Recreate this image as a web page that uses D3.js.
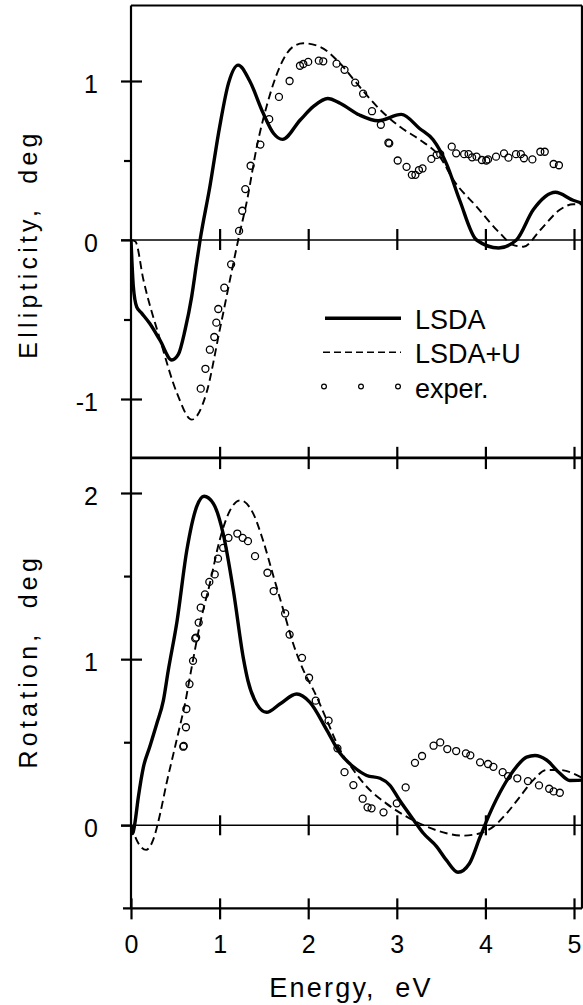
<!DOCTYPE html>
<html>
<head>
<meta charset="utf-8">
<script src="https://cdn.jsdelivr.net/npm/d3@7"></script>
<style>
  html, body { margin: 0; padding: 0; background: #fff; }
  svg { display: block; }
  text { font-family: "Liberation Sans", Arial, Helvetica, sans-serif; fill: #000; }
</style>
</head>
<body>
<div id="chart"></div>
<script>
// ---------------- data ----------------
const xTickValues = [0, 1, 2, 3, 4, 5];
const xTickLabels = ["0", "1", "2", "3", "4", "5"];
const ellTickValues = [-1, 0, 1];
const ellTickLabels = ["-1", "0", "1"];
const rotTickValues = [0, 1, 2];
const rotTickLabels = ["0", "1", "2"];
const seriesNames = ["LSDA", "LSDA+U", "exper."];

// Ellipticity (deg) vs energy (eV)
const ellLSDA = [
  [0,0],[0.026,-0.29],[0.064,-0.42],[0.12,-0.46],[0.21,-0.524],[0.327,-0.63],[0.46,-0.755],
  [0.534,-0.72],[0.61,-0.566],[0.685,-0.356],[0.74,-0.147],[0.78,0],[0.89,0.335],[1.0,0.71],
  [1.10,0.985],[1.21,1.10],[1.34,1.0],[1.49,0.8],[1.61,0.67],[1.71,0.633],[1.91,0.755],
  [2.06,0.84],[2.22,0.89],[2.36,0.86],[2.58,0.786],[2.79,0.75],[3.05,0.79],[3.26,0.70],
  [3.41,0.63],[3.56,0.48],[3.71,0.25],[3.90,0],[4.15,-0.05],[4.35,0],[4.54,0.19],
  [4.79,0.30],[4.99,0.25],[5.10,0.23]
];
const ellLSDAU = [
  [0,0],[0.05,-0.01],[0.14,-0.25],[0.33,-0.63],[0.52,-0.965],[0.685,-1.13],[0.85,-0.965],
  [1.0,-0.57],[1.155,-0.147],[1.21,0],[1.31,0.25],[1.42,0.587],[1.53,0.84],[1.68,1.09],
  [1.83,1.216],[1.945,1.237],[2.13,1.216],[2.36,1.11],[2.58,0.964],[2.81,0.82],[3.04,0.71],
  [3.26,0.63],[3.49,0.52],[3.64,0.377],[3.90,0.21],[4.165,0.042],[4.31,-0.03],[4.43,-0.042],
  [4.62,0.063],[4.84,0.19],[4.99,0.225],[5.10,0.225]
];
const ellExp = [
  [0.787,-0.935],[0.84,-0.81],[0.89,-0.69],[0.94,-0.61],[0.963,-0.52],[0.985,-0.434],
  [1.053,-0.30],[1.13,-0.153],[1.22,0.057],[1.256,0.184],[1.29,0.32],[1.35,0.467],[1.46,0.60],
  [1.56,0.76],[1.67,0.90],[1.79,1.0],[1.907,1.096],[1.945,1.107],[2.0,1.12],[2.12,1.128],
  [2.17,1.124],[2.32,1.109],[2.41,1.07],[2.53,0.99],[2.62,0.92],[2.72,0.81],[2.82,0.725],
  [2.905,0.612],[2.915,0.608],[3.01,0.50],[3.11,0.46],[3.17,0.41],[3.21,0.41],[3.25,0.44],
  [3.29,0.45],[3.39,0.51],[3.45,0.535],[3.49,0.54],[3.62,0.587],[3.67,0.545],[3.76,0.54],
  [3.81,0.54],[3.85,0.52],[3.90,0.524],[3.96,0.503],[4.01,0.50],[4.03,0.507],[4.12,0.524],
  [4.21,0.545],[4.26,0.518],[4.345,0.54],[4.40,0.54],[4.435,0.514],[4.53,0.507],[4.62,0.555],
  [4.67,0.555],[4.77,0.478],[4.83,0.47]
];

// Rotation (deg) vs energy (eV)
const rotLSDA = [
  [0,0],[0.02,-0.05],[0.04,0],[0.083,0.17],[0.14,0.35],[0.21,0.47],[0.29,0.61],[0.365,0.75],
  [0.42,0.93],[0.52,1.23],[0.63,1.655],[0.74,1.916],[0.825,1.98],[0.93,1.936],[1.04,1.756],
  [1.155,1.415],[1.27,1.0],[1.32,0.87],[1.42,0.73],[1.53,0.68],[1.68,0.73],[1.87,0.79],
  [2.02,0.74],[2.21,0.573],[2.36,0.433],[2.51,0.352],[2.66,0.30],[2.81,0.283],[2.92,0.242],
  [3.03,0.152],[3.19,0.032],[3.30,-0.048],[3.45,-0.128],[3.56,-0.21],[3.69,-0.283],
  [3.82,-0.23],[3.94,-0.07],[4.05,0.072],[4.20,0.232],[4.35,0.352],[4.465,0.41],[4.56,0.42],
  [4.69,0.393],[4.84,0.313],[4.95,0.27],[5.10,0.272]
];
const rotLSDAU = [
  [0,0],[0.083,-0.108],[0.17,-0.148],[0.25,-0.088],[0.33,0.072],[0.40,0.25],[0.48,0.433],
  [0.55,0.593],[0.61,0.733],[0.665,0.893],[0.70,0.994],[0.78,1.215],[0.89,1.455],[1.0,1.715],
  [1.10,1.876],[1.235,1.956],[1.38,1.876],[1.49,1.715],[1.61,1.495],[1.72,1.295],[1.83,1.094],
  [1.98,0.894],[2.06,0.814],[2.21,0.633],[2.36,0.453],[2.51,0.333],[2.66,0.232],[2.88,0.132],
  [3.11,0.052],[3.34,-0.008],[3.56,-0.048],[3.75,-0.062],[3.94,-0.048],[4.09,-0.008],
  [4.24,0.072],[4.39,0.172],[4.54,0.272],[4.69,0.333],[4.84,0.333],[5.10,0.283]
];
const rotExp = [
  [0.59,0.473],[0.595,0.478],[0.62,0.59],[0.625,0.70],[0.66,0.85],[0.70,0.99],[0.725,1.125],
  [0.735,1.13],[0.764,1.22],[0.787,1.31],[0.835,1.39],[0.884,1.465],[0.945,1.51],[0.982,1.605],
  [1.04,1.67],[1.10,1.73],[1.20,1.756],[1.26,1.73],[1.32,1.71],[1.40,1.62],[1.54,1.52],
  [1.61,1.41],[1.74,1.275],[1.79,1.148],[1.93,1.008],[2.01,0.888],[2.085,0.75],[2.23,0.63],
  [2.33,0.463],[2.41,0.32],[2.51,0.242],[2.615,0.16],[2.67,0.108],[2.715,0.102],[2.85,0.078],
  [3.0,0.132],[3.10,0.228],[3.205,0.376],[3.285,0.417],[3.415,0.479],[3.49,0.499],[3.57,0.459],
  [3.67,0.447],[3.78,0.433],[3.83,0.421],[3.94,0.379],[4.03,0.369],[4.09,0.352],[4.195,0.32],
  [4.255,0.296],[4.36,0.283],[4.48,0.266],[4.605,0.24],[4.72,0.22],[4.77,0.204],[4.84,0.196]
];

// ---------------- layout ----------------
const W = 583, H = 1005;
const xMaxVal = 5.09;
const ellRange = [-1.37, 1.475];
const rotRange = [-0.5, 2.21];

const x = d3.scaleLinear().domain([0, 5]).range([131, 574]);
const yE = d3.scaleLinear().domain([-1, 1]).range([399, 81]);
const yR = d3.scaleLinear().domain([0, 2]).range([825.3, 493]);

const svg = d3.select("#chart").append("svg").attr("width", W).attr("height", H);

const AXW = 2.2;
const x0 = x(0), x1 = x(xMaxVal);

// clip paths
const defs = svg.append("defs");
defs.append("clipPath").attr("id", "clipE").append("rect")
  .attr("x", x0).attr("y", yE(ellRange[1])).attr("width", x1 - x0).attr("height", yE(ellRange[0]) - yE(ellRange[1]));
defs.append("clipPath").attr("id", "clipR").append("rect")
  .attr("x", x0).attr("y", yR(rotRange[1])).attr("width", x1 - x0).attr("height", yR(rotRange[0]) - yR(rotRange[1]));

function styleAxis(g) {
  g.select(".domain").remove();
  g.selectAll(".tick line").attr("stroke", "#000").attr("stroke-width", AXW);
  g.selectAll(".tick text").attr("font-family", '"Liberation Sans", Arial, sans-serif')
    .attr("font-size", 25).attr("fill", "#000");
}

// ---- frame lines ----
const frame = svg.append("g").attr("stroke", "#000").attr("fill", "none");
frame.append("line").attr("x1", x0).attr("x2", x0).attr("y1", yE(ellRange[1])).attr("y2", yR(rotRange[0])).attr("stroke-width", AXW);
frame.append("line").attr("x1", x1).attr("x2", x1).attr("y1", yE(ellRange[1])).attr("y2", yR(rotRange[0])).attr("stroke-width", AXW);
frame.append("line").attr("x1", x0).attr("x2", x1).attr("y1", yE(ellRange[1])).attr("y2", yE(ellRange[1])).attr("stroke-width", AXW);
frame.append("line").attr("x1", x0).attr("x2", x1).attr("y1", yE(ellRange[0])).attr("y2", yE(ellRange[0])).attr("stroke-width", 2.6);
frame.append("line").attr("x1", x0 - 8).attr("x2", x1).attr("y1", yR(rotRange[0])).attr("y2", yR(rotRange[0])).attr("stroke-width", AXW);
// zero lines
frame.append("line").attr("x1", x0 - 10).attr("x2", x1).attr("y1", yE(0)).attr("y2", yE(0)).attr("stroke-width", 1.6);
frame.append("line").attr("x1", x0 - 10).attr("x2", x1).attr("y1", yR(0)).attr("y2", yR(0)).attr("stroke-width", 1.6);

// ---- x ticks ----
const inner = [1, 2, 3, 4, 5];
svg.append("g").attr("transform", `translate(0,${yE(0)})`)
  .call(d3.axisBottom(x).tickValues(inner).tickSize(10).tickFormat("")).call(styleAxis);
svg.append("g").attr("transform", `translate(0,${yE(0)})`)
  .call(d3.axisTop(x).tickValues(inner).tickSize(11).tickFormat("")).call(styleAxis);
svg.append("g").attr("transform", `translate(0,${yE(ellRange[0])})`)
  .call(d3.axisTop(x).tickValues(inner).tickSize(11).tickFormat("")).call(styleAxis);
svg.append("g").attr("transform", `translate(0,${yR(rotRange[1])})`)
  .call(d3.axisBottom(x).tickValues(inner).tickSize(11).tickFormat("")).call(styleAxis);
svg.append("g").attr("transform", `translate(0,${yR(0)})`)
  .call(d3.axisBottom(x).tickValues(inner).tickSize(10).tickFormat("")).call(styleAxis);
svg.append("g").attr("transform", `translate(0,${yR(0)})`)
  .call(d3.axisTop(x).tickValues(inner).tickSize(10).tickFormat("")).call(styleAxis);
svg.append("g").attr("transform", `translate(0,${yR(rotRange[0])})`)
  .call(d3.axisBottom(x).tickValues(xTickValues).tickSize(11).tickPadding(15.5)
    .tickFormat((d, i) => xTickLabels[i])).call(styleAxis);
svg.append("g").attr("transform", `translate(0,${yR(rotRange[0])})`)
  .call(d3.axisTop(x).tickValues(xTickValues).tickSize(10).tickFormat("")).call(styleAxis);

// ---- y ticks ----
function yTicks(scale, major, labels, minor) {
  svg.append("g").attr("transform", `translate(${x0},0)`)
    .call(d3.axisLeft(scale).tickValues(major).tickSize(10).tickPadding(23)
      .tickFormat((d, i) => labels[i])).call(styleAxis)
    .call(g => g.selectAll(".tick text").attr("dy", "0.46em"));
  svg.append("g").attr("transform", `translate(${x0},0)`)
    .call(d3.axisRight(scale).tickValues(major.filter(v => v !== 0)).tickSize(11).tickFormat("")).call(styleAxis);
  svg.append("g").attr("transform", `translate(${x0},0)`)
    .call(d3.axisLeft(scale).tickValues(minor).tickSize(7).tickFormat("")).call(styleAxis);
}
yTicks(yE, ellTickValues, ellTickLabels, [-0.5, 0.5]);
yTicks(yR, rotTickValues, rotTickLabels, [0.5, 1.5]);

// ---- axis titles ----
svg.append("text").attr("x", 351).attr("y", 996.5).attr("text-anchor", "middle")
  .attr("font-size", 27).attr("letter-spacing", 2.2)
  .style("white-space", "pre").text("Energy,  eV");
svg.append("text").attr("transform", `translate(37,${yE(0) + 4}) rotate(-90)`).attr("text-anchor", "middle")
  .attr("font-size", 25).attr("letter-spacing", 4.2).style("white-space", "pre").text("Ellipticity,  deg");
svg.append("text").attr("transform", `translate(37,${yR(1) + 2}) rotate(-90)`).attr("text-anchor", "middle")
  .attr("font-size", 25).attr("letter-spacing", 4.2).style("white-space", "pre").text("Rotation,  deg");

// ---- data ----
const curve = d3.curveMonotoneX;
function drawPanel(y, clipId, lsda, lsdau, exp) {
  const g = svg.append("g").attr("clip-path", `url(#${clipId})`);
  const line = d3.line().x(d => x(d[0])).y(d => y(d[1])).curve(curve);
  g.append("path").datum(lsdau).attr("d", line).attr("fill", "none").attr("stroke", "#000")
    .attr("stroke-width", 1.9).attr("stroke-dasharray", "8,4.5");
  g.append("path").datum(lsda).attr("d", line).attr("fill", "none").attr("stroke", "#000")
    .attr("stroke-width", 3.4).attr("stroke-linejoin", "round");
  g.selectAll("circle").data(exp).join("circle")
    .attr("cx", d => x(d[0])).attr("cy", d => y(d[1])).attr("r", 3.5)
    .attr("fill", "none").attr("stroke", "#000").attr("stroke-width", 1.3);
}
drawPanel(yE, "clipE", ellLSDA, ellLSDAU, ellExp);
drawPanel(yR, "clipR", rotLSDA, rotLSDAU, rotExp);

// ---- legend ----
const lg = svg.append("g");
const legX0 = 325, legX1 = 401, legText = 415;
const legY = [318.3, 352.3, 386.5];
lg.append("line").attr("x1", legX0).attr("x2", legX1).attr("y1", legY[0]).attr("y2", legY[0])
  .attr("stroke", "#000").attr("stroke-width", 3.4);
lg.append("line").attr("x1", legX0 - 2).attr("x2", legX1).attr("y1", legY[1]).attr("y2", legY[1])
  .attr("stroke", "#000").attr("stroke-width", 1.6).attr("stroke-dasharray", "7,4");
[0, 0.5, 1].forEach(f => {
  lg.append("circle").attr("cx", legX0 - 2 + f * (legX1 - legX0 - 2) + 1).attr("cy", legY[2]).attr("r", 2.4)
    .attr("fill", "none").attr("stroke", "#000").attr("stroke-width", 1.2);
});
seriesNames.forEach((name, i) => {
  lg.append("text").attr("x", legText).attr("y", legY[i] + 11).attr("font-size", 27).text(name);
});
</script>
</body>
</html>
